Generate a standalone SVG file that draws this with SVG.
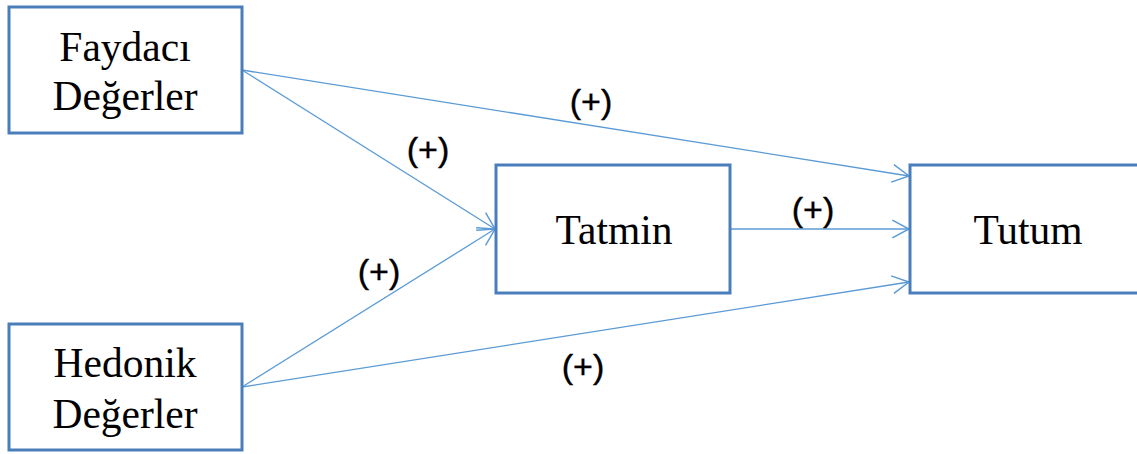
<svg xmlns="http://www.w3.org/2000/svg" width="1137" height="454" viewBox="0 0 1137 454">
<style>
.box{fill:#fff;stroke:#4a7ebb;stroke-width:3}
.t{font-family:"Liberation Serif","Times New Roman",serif;font-size:41.5px;fill:#000;text-anchor:middle}
.c{fill:none;stroke:#5b9bd5;stroke-width:1.3;marker-end:url(#ah)}
.l{font-family:"Liberation Sans",Arial,sans-serif;font-size:34px;fill:#000;text-anchor:middle;stroke:#000;stroke-width:0.4}
</style>
<defs>
<marker id="ah" markerUnits="userSpaceOnUse" markerWidth="20" markerHeight="20" viewBox="-16 -9 18 18" refX="0" refY="0" orient="auto">
<path d="M-15,-8 L0,0 L-15,8" fill="none" stroke="#5b9bd5" stroke-width="1.3"/>
</marker>
</defs>
<g id="connectors">
<line class="c" x1="242" y1="70" x2="909" y2="176"/>
<line class="c" x1="242" y1="70" x2="495" y2="229"/>
<line class="c" x1="242" y1="387" x2="495" y2="229"/>
<line class="c" x1="242" y1="387" x2="909" y2="282"/>
<line class="c" x1="730" y1="229" x2="909" y2="229"/>
<text class="l" x="591" y="113">(+)</text>
<text class="l" x="428" y="161">(+)</text>
<text class="l" x="379" y="283">(+)</text>
<text class="l" x="813" y="221">(+)</text>
<text class="l" x="583" y="378">(+)</text>
</g>
<g id="faydaci">
<rect class="box" x="9" y="7" width="233" height="126"/>
<text class="t" x="125" y="61">Faydacı</text>
<text class="t" x="125" y="110">Değerler</text>
</g>
<g id="hedonik">
<rect class="box" x="9" y="324" width="233" height="126"/>
<text class="t" x="125" y="377">Hedonik</text>
<text class="t" x="125" y="428">Değerler</text>
</g>
<g id="tatmin">
<rect class="box" x="496" y="165" width="234" height="128"/>
<text class="t" x="614" y="244">Tatmin</text>
</g>
<g id="tutum">
<rect class="box" x="910" y="165" width="240" height="128"/>
<text class="t" x="1028" y="244">Tutum</text>
</g>
</svg>
